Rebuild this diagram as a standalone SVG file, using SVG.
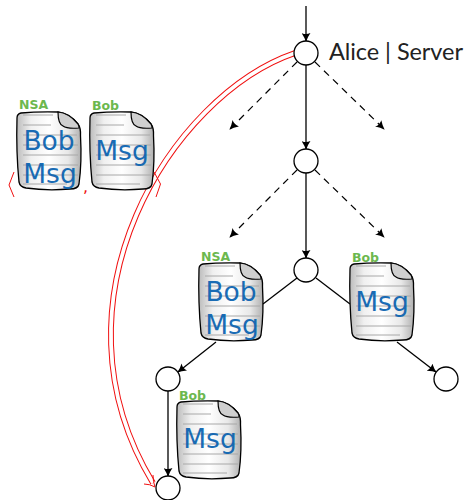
<svg xmlns="http://www.w3.org/2000/svg" width="466" height="500" viewBox="0 0 466 500">
<style>
.n{fill:#fff;stroke:#000;stroke-width:1.3}
.e{fill:none;stroke:#000;stroke-width:1.3}
.d{fill:none;stroke:#000;stroke-width:1.2;stroke-dasharray:7 5.5}
.m{font-family:"DejaVu Sans",sans-serif;font-size:26.500px;fill:#0a62b0;text-anchor:middle;opacity:.93}
.o{font-family:"DejaVu Sans",sans-serif;font-size:12.500px;font-weight:bold;fill:#6cb84e}
.r{font-family:"DejaVu Sans",sans-serif;fill:#f01010}
.b{fill:none;stroke:#f01010;stroke-width:1}
.l{stroke:#a8a8a8;stroke-width:1;fill:none}
</style>
<defs>
<linearGradient id="g" x1="0" x2="1" y1="0" y2="0">
<stop offset="0" stop-color="#bcbcbc"/><stop offset=".22" stop-color="#f0f0f0"/><stop offset=".5" stop-color="#fff"/><stop offset=".8" stop-color="#e8e8e8"/><stop offset="1" stop-color="#b0b0b0"/>
</linearGradient>
<marker id="a" viewBox="0 0 10 10" refX="9" refY="5" markerWidth="9" markerHeight="9" markerUnits="userSpaceOnUse" orient="auto"><path d="M0,0 Q5,3.500 10,5 Q5,6.500 0,10 Q2.500,5 0,0Z" fill="#000"/></marker>
<g id="doc">
<path d="M4,1 Q20,-0.500 41,0 Q52,1 61,12 Q64,16 63.500,24 Q65,50 62,72 Q61,77 53,77 Q30,79 9,76 Q3,75 2,70 Q-1,40 0,6 Q0,2 4,1Z" fill="url(#g)" stroke="#000" stroke-width="1.300"/>
<path class="l" d="M6,3H36M6,13H34M6,23H60M6,33H61M6,43H61M6,53H61M6,63H61M6,72H50"/>
<path d="M41,0 Q52,1 61,12 Q62.500,15 62,16 Q50,17 46,14 Q41,12 41,0Z" fill="#cfcfcf" stroke="#000" stroke-width="1.200"/>
</g>
</defs>
<g id="connectors">
<path class="e" d="M306,6V41" marker-end="url(#a)"/>
<path class="e" d="M306,65V149" marker-end="url(#a)"/>
<path class="e" d="M306,173V258" marker-end="url(#a)"/>
<path class="d" d="M297,62L230,129" marker-end="url(#a)"/>
<path class="d" d="M315,62L384,129" marker-end="url(#a)"/>
<path class="d" d="M297,170L230,237" marker-end="url(#a)"/>
<path class="d" d="M315,170L384,237" marker-end="url(#a)"/>
<path class="e" d="M297,278L263,304"/>
<path class="e" d="M316,278L350,304"/>
<path class="e" d="M216,342L178,372" marker-end="url(#a)"/>
<path class="e" d="M397,342L436,372" marker-end="url(#a)"/>
<path class="e" d="M168,391V476" marker-end="url(#a)"/>
<path d="M295,53C172,95 42,300 153,483" fill="none" stroke="#f01010" stroke-width="5.800"/>
<path d="M295,53C172,95 42,300 153,483" fill="none" stroke="#fff" stroke-width="3.800"/>
<path d="M153,475Q153,482 155,487Q150,484 144,484" fill="none" stroke="#f01010" stroke-width="1"/>
</g>
<g id="alice"><circle class="n" cx="306" cy="53" r="12"/><text x="329" y="60" font-family="Lato,sans-serif" font-size="23.500" textLength="134" fill="#222">Alice | Server</text></g>
<g id="n2"><circle class="n" cx="306" cy="161" r="12"/></g>
<g id="n3"><circle class="n" cx="306" cy="270" r="12"/></g>
<g id="n4"><circle class="n" cx="168" cy="379" r="12"/></g>
<g id="n5"><circle class="n" cx="446" cy="379" r="12"/></g>
<g id="n6"><circle class="n" cx="168" cy="488" r="12"/></g>
<g id="doc1"><use href="#doc" x="17" y="112"/><text class="o" x="19" y="109">NSA</text><text class="m" x="49" y="150">Bob</text><text class="m" x="50" y="183">Msg</text></g>
<g id="doc2"><use href="#doc" x="90" y="112"/><text class="o" x="92" y="110">Bob</text><text class="m" x="122" y="160">Msg</text></g>
<g id="doc3"><use href="#doc" x="199" y="263"/><text class="o" x="201" y="261">NSA</text><text class="m" x="231" y="301">Bob</text><text class="m" x="232" y="334">Msg</text></g>
<g id="doc4"><use href="#doc" x="350" y="263"/><text class="o" x="352" y="262">Bob</text><text class="m" x="382" y="311">Msg</text></g>
<g id="doc5"><use href="#doc" x="177" y="401"/><text class="o" x="179" y="400">Bob</text><text class="m" x="210" y="448">Msg</text></g>
<g id="tuple">
<path class="b" d="M14,172L9,185L14,197"/>
<path class="b" d="M154,172L160.500,184L156,197"/>
<text class="r" x="83" y="192" font-size="16">,</text>
</g>
</svg>
